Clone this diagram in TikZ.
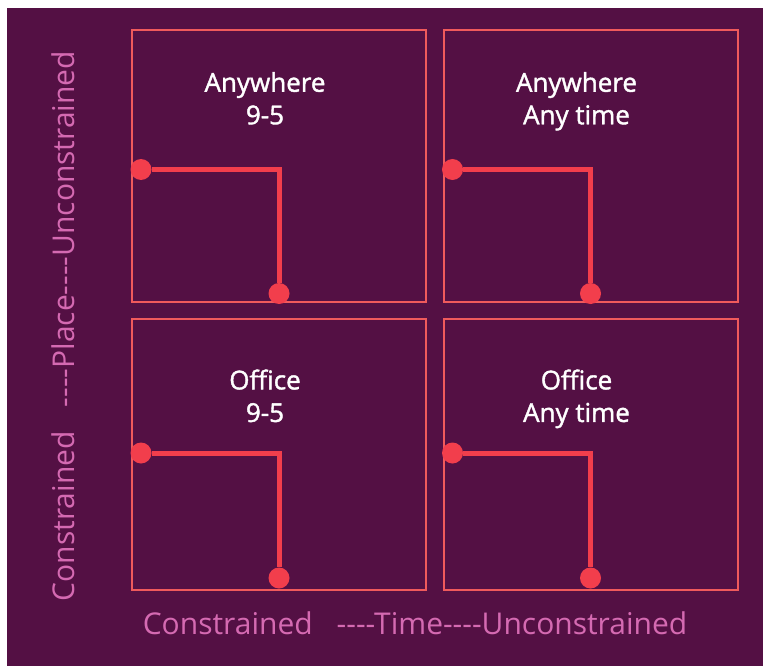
\documentclass[tikz,border=0pt]{standalone}
\usepackage{fontspec}
\setmainfont{Open Sans}
\newfontfamily\titlefont[FakeBold=1.5]{Open Sans}
\definecolor{bg}{HTML}{541044}
\definecolor{boxred}{HTML}{F05A5C}
\definecolor{wirered}{HTML}{F23E4C}
\definecolor{axispink}{HTML}{D56AB2}
\begin{document}
\begin{tikzpicture}[x=1pt,y=-1pt,
  quad/.style={draw=boxred,line width=2pt,minimum width=294pt,minimum height=271pt,inner sep=0pt},
  title/.style={anchor=north,text=white,align=center,font=\titlefont\fontsize{26}{32.5}\selectfont},
  dot/.style={circle,fill=wirered,minimum size=21pt,inner sep=0pt},
  wire/.style={wirered,line width=5pt},
  axis/.style={text=axispink,font=\fontsize{30}{34}\selectfont}]
\useasboundingbox (0,0) rectangle (763,666);
\fill[bg] (7,8) rectangle (763,666);
\foreach \n/\x/\y/\ty/\da/\db/\a/\b in {tl/279/166/39/140/9/Anywhere/9-5,
    tr/590.5/166/39/140/9/Anywhere/Any time,
    bl/279/454.5/48/135/13/Office/9-5, br/590.5/454.5/48/135/13/Office/Any time} {
  \node[quad] (\n) at (\x,\y) {};
  \node[title] (\n-t) at ([xshift=-14pt,yshift=-\ty pt]\n.north) {\a\\\b};
  \node[dot] (\n-a) at ([xshift=10pt,yshift=-\da pt]\n.north west) {};
  \node[dot] (\n-b) at ([yshift=\db pt]\n.south) {};
  \draw[wire] (\n-a) -| (\n-b);
}
\node[axis] (time) at (415,623) {Constrained\hspace{24pt}-{}-{}-{}-Time-{}-{}-{}-Unconstrained};
\node[axis,rotate=90] (place) at (63,326) {Constrained\hspace{24pt}-{}-{}-{}-Place-{}-{}-{}-Unconstrained};
\end{tikzpicture}
\end{document}
